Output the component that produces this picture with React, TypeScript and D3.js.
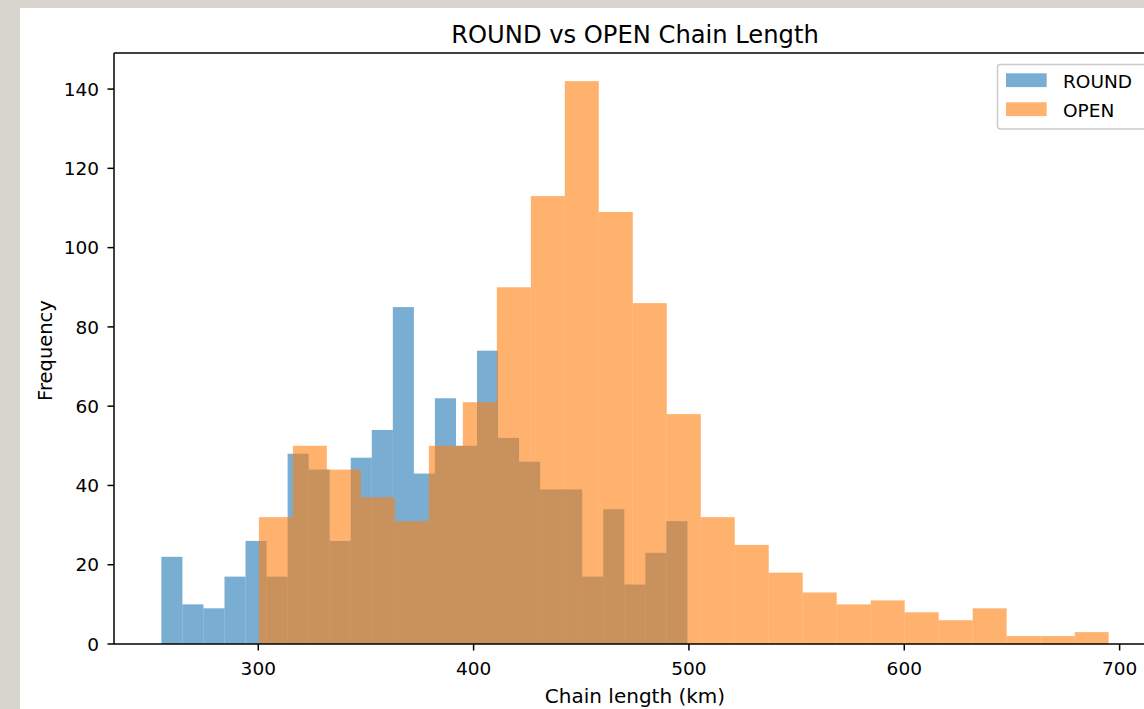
import React from "react";
import * as d3 from "d3";

// ---- data ----
const roundCounts = [22, 10, 9, 17, 26, 17, 48, 44, 26, 47, 54, 85, 43, 62, 50, 74, 52, 46, 39, 39, 17, 34, 15, 23, 31];
const openCounts = [32, 50, 44, 37, 31, 50, 61, 90, 113, 142, 109, 86, 58, 32, 25, 18, 13, 10, 11, 8, 6, 9, 2, 2, 3];
const roundRange = [255.0, 499.3];
const openRange = [300.3, 694.9];
const xTicks = [300, 400, 500, 600, 700];
const yTicks = [0, 20, 40, 60, 80, 100, 120, 140];
const seriesNames = ["ROUND", "OPEN"];
const seriesColors = ["#1f77b4", "#ff7f0e"];

const W = 1144;
const H = 709;
const plot = { left: 114, top: 53, right: 1156, bottom: 644 };
const FONT = "DejaVu Sans, Verdana, sans-serif";

function bins(counts: number[], range: number[]) {
  const n = counts.length;
  const w = (range[1] - range[0]) / n;
  return counts.map((c, i) => ({ x0: range[0] + i * w, x1: range[0] + (i + 1) * w, c }));
}

export default function App() {
  const allMin = Math.min(roundRange[0], openRange[0]);
  const allMax = Math.max(roundRange[1], openRange[1]);
  const pad = (allMax - allMin) * 0.05;
  const x = d3.scaleLinear().domain([allMin - pad, allMax + pad]).range([plot.left, plot.right]);
  const yMax = Math.max(d3.max(roundCounts) as number, d3.max(openCounts) as number) * 1.05;
  const y = d3.scaleLinear().domain([0, yMax]).range([plot.bottom, plot.top]);

  const series = [bins(roundCounts, roundRange), bins(openCounts, openRange)];

  const legendX = 997.5;
  const legendY = 64.5;

  return (
    <svg width={W} height={H} style={{ position: "absolute", left: 0, top: 0 }} xmlns="http://www.w3.org/2000/svg">
      <rect x={0} y={0} width={W} height={H} fill="#d9d6cf" />
      <rect x={20} y={8} width={W - 20} height={H - 8} fill="#ffffff" />

      {series.map((bs, si) => (
        <g key={si} fill={seriesColors[si]} fillOpacity={0.6}>
          {bs.map((b, i) => (
            <rect key={i} x={x(b.x0)} y={y(b.c)} width={x(b.x1) - x(b.x0)} height={y(0) - y(b.c)} />
          ))}
        </g>
      ))}

      {/* spines */}
      <g stroke="#000" strokeWidth={1.5} fill="none">
        <line x1={plot.left} y1={plot.top} x2={plot.left} y2={plot.bottom} />
        <line x1={plot.left} y1={plot.bottom} x2={plot.right} y2={plot.bottom} />
        <line x1={plot.left} y1={plot.top} x2={plot.right} y2={plot.top} />
        <line x1={plot.right} y1={plot.top} x2={plot.right} y2={plot.bottom} />
      </g>

      {/* x ticks */}
      <g fontFamily={FONT} fontSize={18.5} fill="#000" textAnchor="middle">
        {xTicks.map((t) => (
          <g key={t}>
            <line x1={x(t)} x2={x(t)} y1={plot.bottom} y2={plot.bottom + 6.5} stroke="#000" strokeWidth={1.5} />
            <text x={x(t)} y={674.5}>{t}</text>
          </g>
        ))}
      </g>

      {/* y ticks */}
      <g fontFamily={FONT} fontSize={18.5} fill="#000" textAnchor="end">
        {yTicks.map((t) => (
          <g key={t}>
            <line x1={plot.left - 6.5} x2={plot.left} y1={y(t)} y2={y(t)} stroke="#000" strokeWidth={1.5} />
            <text x={99} y={y(t)} dy="0.36em">{t}</text>
          </g>
        ))}
      </g>

      {/* labels */}
      <text x={635} y={43.3} fontFamily={FONT} fontSize={24.2} textAnchor="middle" fill="#000">ROUND vs OPEN Chain Length</text>
      <text x={635} y={703} fontFamily={FONT} fontSize={20} textAnchor="middle" fill="#000">Chain length (km)</text>
      <text transform={`translate(51.5,${(plot.top + plot.bottom) / 2 + 2}) rotate(-90)`} fontFamily={FONT} fontSize={19.5} textAnchor="middle" fill="#000">Frequency</text>

      {/* legend */}
      <g>
        <rect x={legendX} y={legendY} width={152} height={64.5} rx={3} fill="#fff" fillOpacity={0.8} stroke="#cccccc" strokeWidth={1.5} />
        {seriesNames.map((nm, i) => (
          <g key={nm}>
            <rect x={1006} y={73.3 + i * 29} width={40.7} height={13.8} fill={seriesColors[i]} fillOpacity={0.6} />
            <text x={1063} y={87.5 + i * 29} fontFamily={FONT} fontSize={18.5} fill="#000">{nm}</text>
          </g>
        ))}
      </g>
    </svg>
  );
}
